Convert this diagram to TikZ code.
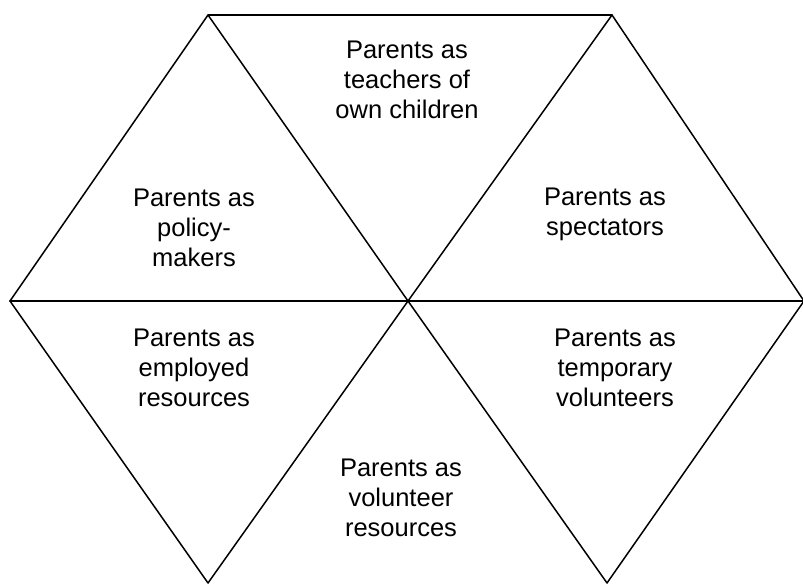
\documentclass[tikz,border=0pt]{standalone}
\usepackage{fontspec}
\setmainfont{Liberation Sans}
\begin{document}
\begin{tikzpicture}[x=1pt,y=-1pt,
  edge/.style={line width=1.5pt,black,line cap=round,line join=round},
  lbl/.style={align=center,font=\fontsize{25.5}{30}\selectfont,inner sep=0pt}]
\useasboundingbox (0,0) rectangle (803,584);
\coordinate (A) at (208,15);
\coordinate (B) at (612,15);
\coordinate (L) at (10,301);
\coordinate (C) at (408,301);
\coordinate (R) at (804,301);
\coordinate (BL) at (208,583);
\coordinate (BR) at (607,583);
\draw[edge] (A) -- (B);
\draw[edge] (L) -- (R);
\draw[edge] (L) -- (A) -- (C);
\draw[edge] (B) -- (C);
\draw[edge] (B) -- (R);
\draw[edge] (L) -- (BL) -- (C);
\draw[edge] (C) -- (BR) -- (R);
\node[lbl] (t1) at (194,228) {Parents as\\policy-\\makers};
\node[lbl] (t2) at (407,80) {Parents as\\teachers of\\own children};
\node[lbl] (t3) at (605,214) {Parents as\\spectators};
\node[lbl] (t4) at (194,368) {Parents as\\employed\\resources};
\node[lbl] (t5) at (615,368) {Parents as\\temporary\\volunteers};
\node[lbl] (t6) at (401,498) {Parents as\\volunteer\\resources};
\end{tikzpicture}
\end{document}
